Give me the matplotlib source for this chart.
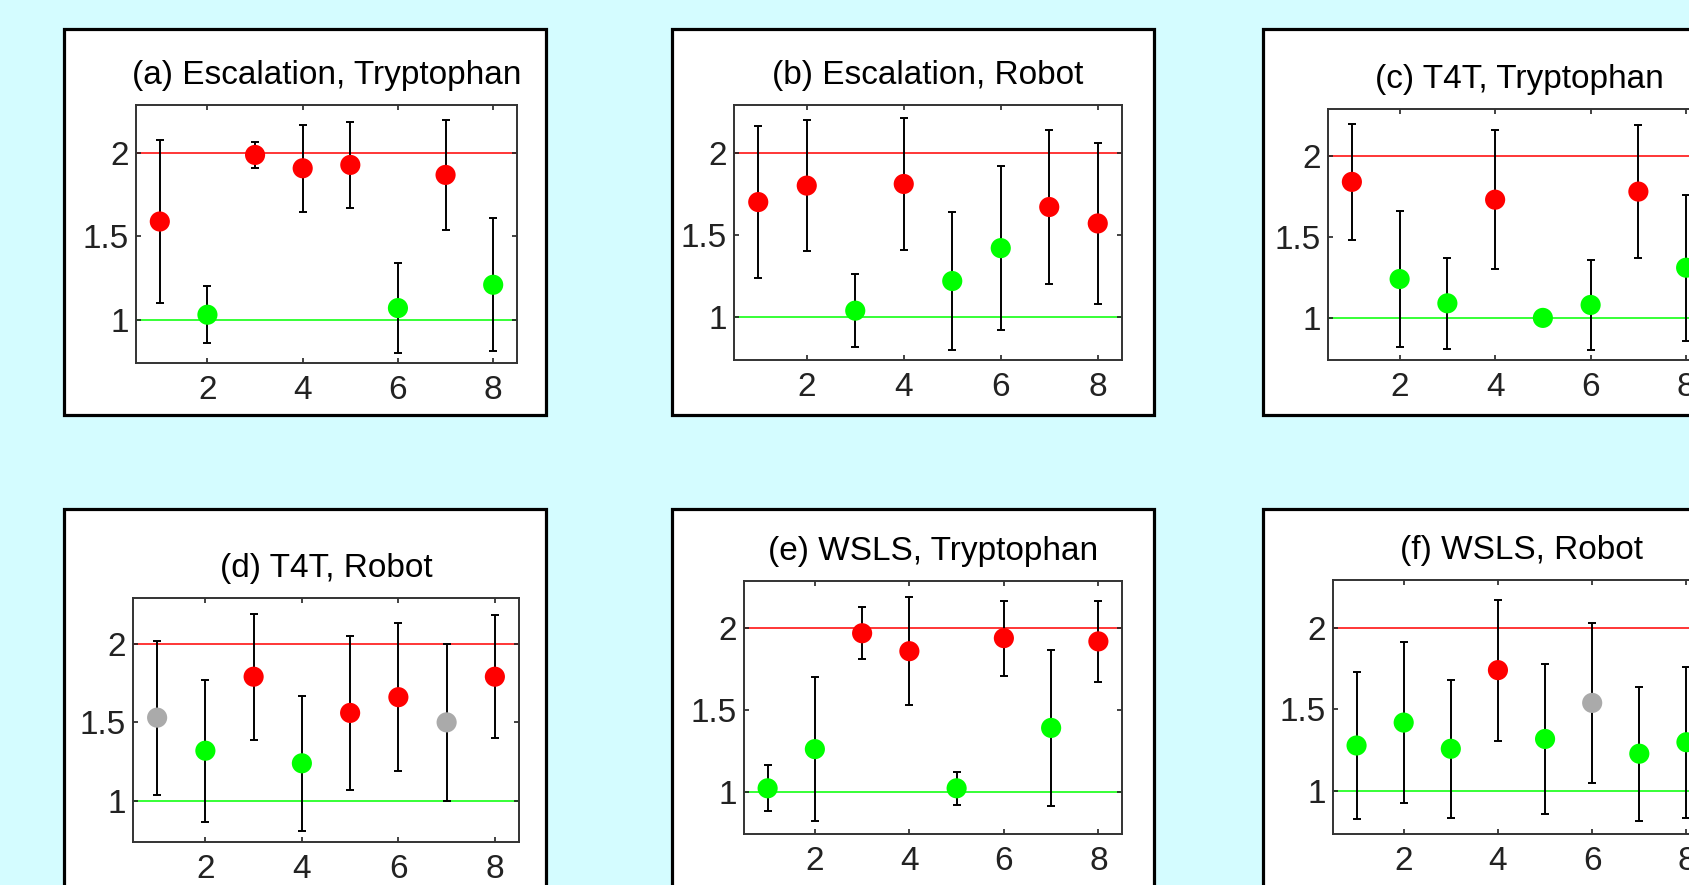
import matplotlib.pyplot as plt
from matplotlib.patches import Rectangle

plt.rcParams['font.family'] = ['Liberation Sans', 'DejaVu Sans']

W, H = 1689, 885

trial = [1, 2, 3, 4, 5, 6, 7, 8]

titles = ["(a) Escalation, Tryptophan", "(b) Escalation, Robot",
          "(c) T4T, Tryptophan", "(d) T4T, Robot",
          "(e) WSLS, Tryptophan", "(f) WSLS, Robot"]

# mean value per trial, half-width of the error bar, and outcome class
# r = near 2, g = near 1, n = undecided
esc_tryp_mean = [1.59, 1.03, 1.99, 1.91, 1.93, 1.07, 1.87, 1.21]
esc_tryp_err = [0.49, 0.17, 0.08, 0.26, 0.26, 0.27, 0.33, 0.40]
esc_tryp_kind = ["r", "g", "r", "r", "r", "g", "r", "g"]

esc_robot_mean = [1.70, 1.80, 1.04, 1.81, 1.22, 1.42, 1.67, 1.57]
esc_robot_err = [0.46, 0.40, 0.22, 0.40, 0.42, 0.50, 0.47, 0.49]
esc_robot_kind = ["r", "r", "g", "r", "g", "g", "r", "r"]

t4t_tryp_mean = [1.84, 1.24, 1.09, 1.73, 1.00, 1.08, 1.78, 1.31]
t4t_tryp_err = [0.36, 0.42, 0.28, 0.43, 0.0, 0.28, 0.41, 0.45]
t4t_tryp_kind = ["r", "g", "g", "r", "g", "g", "r", "g"]

t4t_robot_mean = [1.53, 1.32, 1.79, 1.24, 1.56, 1.66, 1.50, 1.79]
t4t_robot_err = [0.49, 0.45, 0.40, 0.43, 0.49, 0.47, 0.50, 0.39]
t4t_robot_kind = ["n", "g", "r", "g", "r", "r", "n", "r"]

wsls_tryp_mean = [1.02, 1.26, 1.97, 1.86, 1.02, 1.94, 1.39, 1.92]
wsls_tryp_err = [0.14, 0.44, 0.16, 0.33, 0.10, 0.23, 0.48, 0.25]
wsls_tryp_kind = ["g", "g", "r", "r", "g", "r", "g", "r"]

wsls_robot_mean = [1.28, 1.42, 1.26, 1.74, 1.32, 1.54, 1.23, 1.30]
wsls_robot_err = [0.45, 0.49, 0.42, 0.43, 0.46, 0.49, 0.41, 0.46]
wsls_robot_kind = ["g", "g", "g", "r", "g", "n", "g", "g"]

means = [esc_tryp_mean, esc_robot_mean, t4t_tryp_mean,
         t4t_robot_mean, wsls_tryp_mean, wsls_robot_mean]
errs = [esc_tryp_err, esc_robot_err, t4t_tryp_err,
        t4t_robot_err, wsls_tryp_err, wsls_robot_err]
kinds = [esc_tryp_kind, esc_robot_kind, t4t_tryp_kind,
         t4t_robot_kind, wsls_tryp_kind, wsls_robot_kind]

colors = {"r": "#ff0000", "g": "#00ff00", "n": "#aaaaaa"}

# pixel boxes: (left, top, right, bottom)
frames = [(64, 29, 546, 415), (672, 29, 1154, 415), (1263, 29, 1745, 415),
          (64, 509, 546, 895), (672, 509, 1154, 895), (1263, 509, 1745, 895)]
plots = [(136, 105, 517, 363), (734, 105, 1122, 360), (1328, 109, 1710, 360),
         (133, 598, 519, 842), (744, 581, 1122, 834), (1333, 580, 1710, 834)]


def rect(l, t, r, b):
    return [l / W, 1 - b / H, (r - l) / W, (b - t) / H]


fig = plt.figure(figsize=(W / 100, H / 100), dpi=100, facecolor="#d4fcff")

for i in range(6):
    l, t, r, b = frames[i]
    fig.add_artist(Rectangle((l / W, 1 - b / H), (r - l) / W, (b - t) / H,
                             transform=fig.transFigure, facecolor="white",
                             edgecolor="black", linewidth=2.3, zorder=-5))

    ax = fig.add_axes(rect(*plots[i]))
    ax.axhline(2, color="#ff0000", lw=1.1, zorder=1)
    ax.axhline(1, color="#00ff00", lw=1.1, zorder=1)
    ax.errorbar(trial, means[i], yerr=errs[i], fmt="none", ecolor="black",
                elinewidth=1.4, capsize=3.2, capthick=1.4, zorder=2)
    ax.scatter(trial, means[i], s=14.5 ** 2,
               c=[colors[k] for k in kinds[i]], zorder=3, linewidths=0)

    ax.set_xlim(0.5, 8.5)
    ax.set_ylim(0.74, 2.29)
    ax.set_xticks([2, 4, 6, 8])
    ax.set_yticks([1, 1.5, 2])
    ax.set_yticklabels(["1", "1.5", "2"])
    ax.tick_params(direction="in", length=3.5, width=1.2, top=True, right=True,
                   labelsize=24, colors="#222222")
    ax.tick_params(axis="x", pad=8.5)
    ax.tick_params(axis="y", pad=5)
    for s in ax.spines.values():
        s.set_linewidth(1.4)
        s.set_color("#333333")
    ax.set_title(titles[i], fontsize=24, pad=15)

fig.savefig("out.png", dpi=100, facecolor=fig.get_facecolor())
